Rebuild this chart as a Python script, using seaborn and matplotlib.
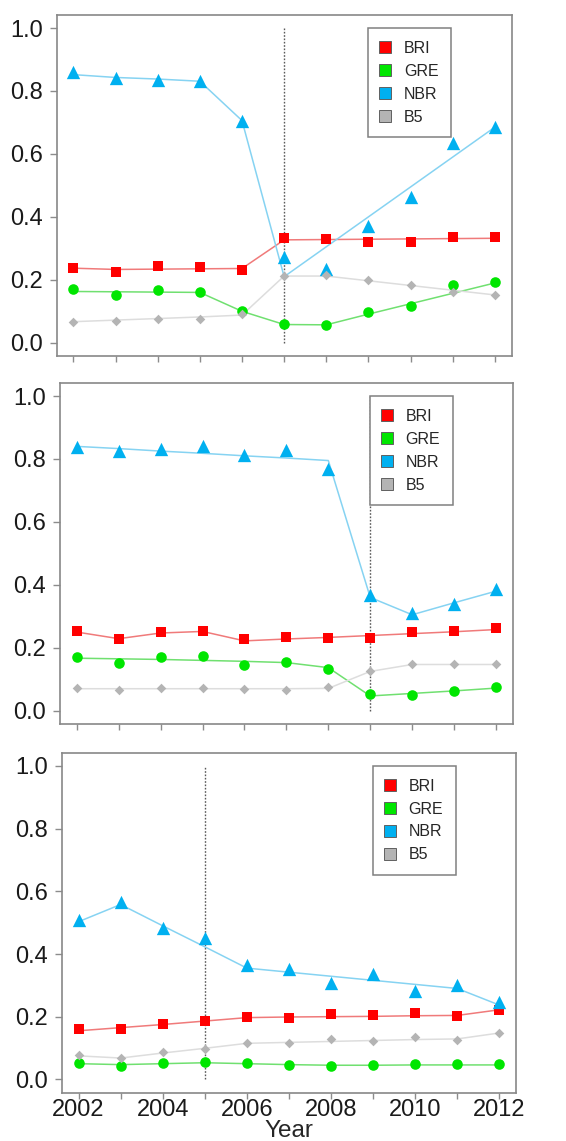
import matplotlib
matplotlib.use("Agg")
import matplotlib.pyplot as plt
from matplotlib.lines import Line2D
import seaborn as sns

# ---- data -------------------------------------------------------------
years = list(range(2002, 2013))
series_names = ["BRI", "GRE", "NBR", "B5"]
y_ticks = [0.0, 0.2, 0.4, 0.6, 0.8, 1.0]
break_years = [2007, 2009, 2005]

# panel 1: observed values and fitted trajectories
p1_bri_obs = [0.239, 0.224, 0.245, 0.241, 0.231, 0.332, 0.331, 0.319, 0.319, 0.336, 0.336]
p1_bri_fit = [0.237, 0.233, 0.234, 0.235, 0.236, 0.327, 0.328, 0.329, 0.330, 0.331, 0.332]
p1_gre_obs = [0.170, 0.151, 0.169, 0.160, 0.102, 0.060, 0.056, 0.098, 0.118, 0.182, 0.192]
p1_gre_fit = [0.163, 0.162, 0.161, 0.160, 0.100, 0.058, 0.057, 0.091, 0.124, 0.157, 0.190]
p1_nbr_obs = [0.859, 0.840, 0.835, 0.832, 0.706, 0.274, 0.233, 0.372, 0.464, 0.636, 0.685]
p1_nbr_fit = [0.852, 0.843, 0.838, 0.831, 0.706, 0.210, 0.305, 0.400, 0.495, 0.590, 0.685]
p1_b5_obs = [0.067, 0.069, 0.075, 0.074, 0.091, 0.213, 0.214, 0.199, 0.183, 0.162, 0.152]
p1_b5_fit = [0.067, 0.072, 0.077, 0.082, 0.088, 0.212, 0.212, 0.197, 0.182, 0.167, 0.152]

# panel 2
p2_bri_obs = [0.254, 0.229, 0.251, 0.254, 0.227, 0.234, 0.232, 0.232, 0.251, 0.252, 0.264]
p2_bri_fit = [0.250, 0.229, 0.247, 0.252, 0.222, 0.228, 0.233, 0.239, 0.245, 0.251, 0.258]
p2_gre_obs = [0.172, 0.151, 0.172, 0.174, 0.144, 0.154, 0.134, 0.052, 0.050, 0.062, 0.076]
p2_gre_fit = [0.167, 0.165, 0.163, 0.160, 0.157, 0.153, 0.137, 0.047, 0.055, 0.063, 0.072]
p2_nbr_obs = [0.837, 0.826, 0.833, 0.842, 0.812, 0.829, 0.769, 0.369, 0.310, 0.340, 0.388]
p2_nbr_fit = [0.840, 0.833, 0.825, 0.818, 0.810, 0.803, 0.795, 0.360, 0.305, 0.343, 0.380]
p2_b5_obs = [0.071, 0.067, 0.071, 0.071, 0.069, 0.067, 0.074, 0.127, 0.147, 0.147, 0.147]
p2_b5_fit = [0.070, 0.070, 0.070, 0.070, 0.070, 0.070, 0.071, 0.125, 0.147, 0.147, 0.147]

# panel 3
p3_bri_obs = [0.161, 0.161, 0.176, 0.186, 0.200, 0.195, 0.208, 0.206, 0.212, 0.203, 0.221]
p3_bri_fit = [0.155, 0.165, 0.175, 0.186, 0.197, 0.199, 0.200, 0.201, 0.203, 0.204, 0.222]
p3_gre_obs = [0.052, 0.044, 0.052, 0.055, 0.051, 0.047, 0.043, 0.046, 0.050, 0.048, 0.048]
p3_gre_fit = [0.050, 0.047, 0.050, 0.053, 0.050, 0.047, 0.045, 0.045, 0.046, 0.046, 0.046]
p3_nbr_obs = [0.508, 0.567, 0.482, 0.452, 0.364, 0.352, 0.309, 0.335, 0.283, 0.301, 0.246]
p3_nbr_fit = [0.503, 0.558, 0.490, 0.423, 0.355, 0.342, 0.329, 0.316, 0.303, 0.290, 0.237]
p3_b5_obs = [0.078, 0.068, 0.087, 0.097, 0.117, 0.117, 0.129, 0.123, 0.136, 0.127, 0.148]
p3_b5_fit = [0.075, 0.068, 0.084, 0.099, 0.115, 0.118, 0.121, 0.124, 0.127, 0.129, 0.148]

# ---- styling ----------------------------------------------------------
marker_colors = {"BRI": "#ff0000", "GRE": "#00e600", "NBR": "#00b0f0", "B5": "#b4b4b4"}
line_colors = {"BRI": "#f07a7a", "GRE": "#70e070", "NBR": "#86d3f2", "B5": "#dddddd"}
marker_shapes = {"BRI": "s", "GRE": "o", "NBR": "^", "B5": "D"}
marker_areas = {"BRI": 58, "GRE": 58, "NBR": 92, "B5": 24}

sns.set_theme(style="white")
plt.rcParams["font.family"] = ["Liberation Sans", "DejaVu Sans"]

panels = [
    {"obs": [p1_bri_obs, p1_gre_obs, p1_nbr_obs, p1_b5_obs],
     "fit": [p1_bri_fit, p1_gre_fit, p1_nbr_fit, p1_b5_fit]},
    {"obs": [p2_bri_obs, p2_gre_obs, p2_nbr_obs, p2_b5_obs],
     "fit": [p2_bri_fit, p2_gre_fit, p2_nbr_fit, p2_b5_fit]},
    {"obs": [p3_bri_obs, p3_gre_obs, p3_nbr_obs, p3_b5_obs],
     "fit": [p3_bri_fit, p3_gre_fit, p3_nbr_fit, p3_b5_fit]},
]

fig = plt.figure(figsize=(5.66, 11.41), dpi=100)
rects = [
    (0.100, 0.688, 0.804, 0.299),
    (0.106, 0.3655, 0.800, 0.299),
    (0.109, 0.0425, 0.803, 0.2977),
]
axes = [fig.add_axes(r) for r in rects]

for i, (ax, panel, brk) in enumerate(zip(axes, panels, break_years)):
    ax.vlines(brk, 0.0, 1.0, colors="#5a5a5a", linestyles=(0, (1.2, 1.2)),
              linewidth=1.0, zorder=1.5)
    for name, fit in zip(series_names, panel["fit"]):
        sns.lineplot(x=years, y=fit, color=line_colors[name], linewidth=1.1,
                     ax=ax, zorder=2)
    for name, obs in zip(series_names, panel["obs"]):
        sns.scatterplot(x=years, y=obs, marker=marker_shapes[name],
                        s=marker_areas[name], color=marker_colors[name],
                        linewidth=0, ax=ax, zorder=3, legend=False)

    ax.set_xlim(2001.6, 2012.4)
    ax.set_ylim(-0.042, 1.042)
    ax.set_xticks(years)
    if i == len(axes) - 1:
        ax.set_xticklabels([str(y) if y % 2 == 0 else "" for y in years],
                           fontsize=17)
        ax.set_xlabel("Year", fontsize=17.5, labelpad=-1)
    else:
        ax.set_xticklabels([])
        ax.set_xlabel("")
    ax.set_yticks(y_ticks)
    ax.set_yticklabels([f"{v:.1f}" for v in y_ticks], fontsize=17)
    ax.set_ylabel("")
    ax.tick_params(axis="x", bottom=True, direction="out", length=4, width=1,
                   color="#8c8c8c", pad=1, labelcolor="#1a1a1a")
    ax.tick_params(axis="y", left=True, direction="out", length=5, width=1,
                   color="#8c8c8c", pad=5, labelcolor="#1a1a1a")
    for sp in ax.spines.values():
        sp.set_visible(True)
        sp.set_color("#888888")
        sp.set_linewidth(1.2)

    handles = [Line2D([], [], linestyle="none", marker="s", markersize=8,
                      markerfacecolor=marker_colors[n], markeredgecolor="#606060",
                      markeredgewidth=0.7) for n in series_names]
    leg = ax.legend(handles, series_names, loc="upper left",
                    bbox_to_anchor=(0.684, 0.962), frameon=True, fancybox=False,
                    framealpha=1, edgecolor="#808080", fontsize=11.5,
                    borderpad=0.8, labelspacing=0.5, handlelength=0.6,
                    handletextpad=0.85, borderaxespad=0)
    leg.get_frame().set_linewidth(1.1)
    leg.set_zorder(5)

fig.savefig("out.png", dpi=100)
